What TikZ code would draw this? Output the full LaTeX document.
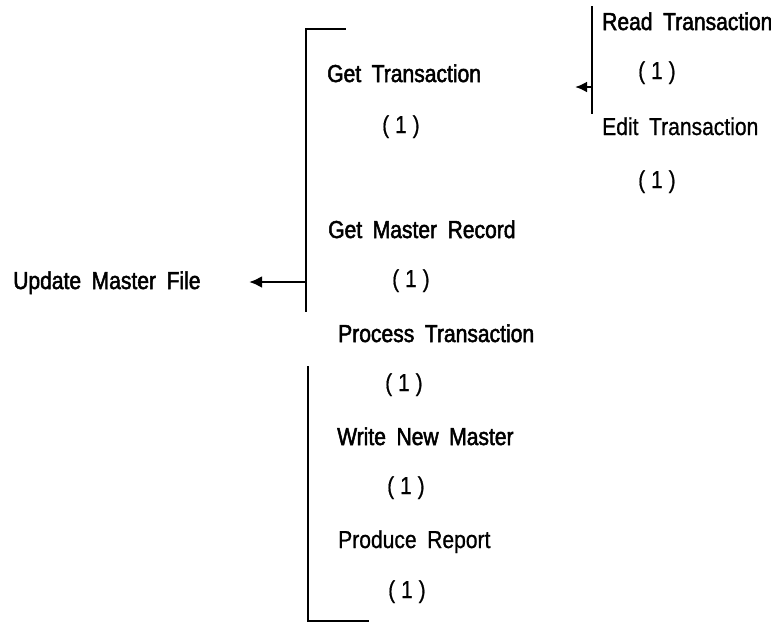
\documentclass[tikz,border=0pt]{standalone}
\usepackage{fontspec}
\usetikzlibrary{arrows.meta}
\setmainfont{Liberation Sans}
\newfontfamily\labfont[FakeStretch=0.86,WordSpace=1.8,FakeBold=0.8]{Liberation Sans}
\newfontfamily\labbfont[FakeStretch=0.86,WordSpace=1.8,FakeBold=2]{Liberation Sans}
\newfontfamily\numfont[FakeStretch=0.86,FakeBold=0.6]{Liberation Sans}
\tikzset{
  lab/.style={anchor=base west, inner sep=0pt, font=\fontsize{24.5}{28}\selectfont\labbfont},
  lablight/.style={anchor=base west, inner sep=0pt, font=\fontsize{24.5}{28}\selectfont\labfont},
  num/.style={anchor=base west, inner sep=0pt, font=\fontsize{24.5}{28}\selectfont\numfont},
  brk/.style={line width=2.6pt, line cap=rect},
  arr/.style={line width=2.6pt, -{Latex[length=13pt,width=12pt]}},
  arrs/.style={line width=2.6pt, -{Latex[length=12pt,width=11pt]}}
}
\begin{document}
\begin{tikzpicture}[x=1pt,y=-1pt]
\useasboundingbox (0,0) rectangle (771,625);
% labels
\node[lab] (upd) at (13,289) {Update Master File};
\node[lab] (gt) at (327,82) {Get Transaction};
\node[num] (gt1) at (382,133) {( 1 )};
\node[lab] (gmr) at (328,238) {Get Master Record};
\node[num] (gmr1) at (392,287) {( 1 )};
\node[lab] (pt) at (338,342) {Process Transaction};
\node[num] (pt1) at (385,391) {( 1 )};
\node[lab] (wnm) at (337,445) {Write New Master};
\node[num] (wnm1) at (387,494) {( 1 )};
\node[lablight] (pr) at (338,548) {Produce Report};
\node[num] (pr1) at (388,598) {( 1 )};
\node[lab] (rt) at (602,30) {Read Transaction};
\node[num] (rt1) at (638,79) {( 1 )};
\node[lablight] (et) at (602,135) {Edit Transaction};
\node[num] (et1) at (638,188) {( 1 )};
% upper bracket
\coordinate (ub1) at (345,29);
\coordinate (ub2) at (306,29);
\coordinate (ub3) at (306,311);
\coordinate (ubm) at (306,282);
\coordinate (updtip) at (249,282);
\draw[brk] (ub1) -- (ub2) -- (ub3);
\draw[arr] (ubm) -- (updtip);
% lower bracket
\coordinate (lb1) at (308,367);
\coordinate (lb2) at (308,621);
\coordinate (lb3) at (368,621);
\draw[brk] (lb1) -- (lb2) -- (lb3);
% small bracket
\coordinate (sb1) at (592,7);
\coordinate (sb2) at (592,113);
\coordinate (sbm) at (592,87);
\coordinate (sbtip) at (575,87);
\draw[brk] (sb1) -- (sb2);
\draw[arrs] (sbm) -- (sbtip);
\end{tikzpicture}
\end{document}
